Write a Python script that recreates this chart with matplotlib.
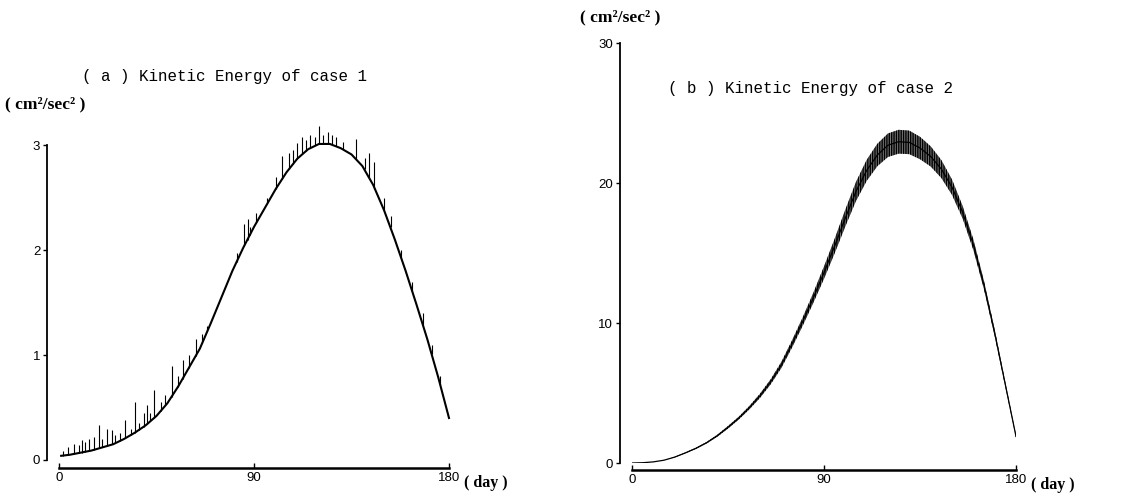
import matplotlib
matplotlib.use("Agg")
import matplotlib.pyplot as plt
import numpy as np

# ---------------- data ----------------
# (a) Kinetic energy of case 1: smooth base curve
days_a = [1, 5, 10, 15, 20, 25, 30, 35, 40, 45, 50, 55, 60, 65, 70, 75, 80, 85, 90,
          95, 100, 105, 110, 115, 120, 125, 130, 135, 140, 145, 150, 155, 160, 165,
          170, 175, 180]
ke_a = [0.04, 0.05, 0.07, 0.09, 0.12, 0.15, 0.20, 0.26, 0.33, 0.42, 0.54, 0.70, 0.88,
        1.06, 1.30, 1.55, 1.80, 2.02, 2.22, 2.40, 2.58, 2.74, 2.87, 2.96, 3.01, 3.01,
        2.97, 2.91, 2.80, 2.62, 2.38, 2.10, 1.80, 1.48, 1.15, 0.79, 0.40]

# (a) short upward spikes on the curve
spike_days = [2, 4, 7, 9, 10.5, 12, 14, 16, 18.5, 20, 22, 24.5, 26, 28, 30.5, 33, 35,
              37, 39, 40.5, 42, 44, 47, 49, 52, 55, 57, 60, 63, 66, 68.5, 82, 85.5, 87,
              88, 91, 96, 100, 103, 106, 108, 110, 112, 114, 116, 118, 120, 122, 124,
              126, 128, 131, 137, 141, 143, 145.5, 150, 153, 158, 163, 168, 172, 176]
spike_low = [0.04, 0.05, 0.06, 0.065, 0.07, 0.08, 0.085, 0.095, 0.11, 0.12, 0.13, 0.15,
             0.16, 0.18, 0.21, 0.24, 0.26, 0.29, 0.31, 0.34, 0.37, 0.40, 0.47, 0.52,
             0.60, 0.70, 0.77, 0.88, 0.99, 1.11, 1.23, 1.89, 2.04, 2.10, 2.14, 2.26,
             2.44, 2.58, 2.68, 2.77, 2.82, 2.87, 2.91, 2.94, 2.98, 3.00, 3.01, 3.01,
             3.01, 3.01, 2.99, 2.96, 2.87, 2.77, 2.70, 2.58, 2.38, 2.22, 1.92, 1.61,
             1.28, 1.01, 0.71]
spike_high = [0.09, 0.12, 0.15, 0.14, 0.19, 0.17, 0.20, 0.22, 0.33, 0.20, 0.30, 0.29,
              0.24, 0.26, 0.38, 0.30, 0.55, 0.35, 0.45, 0.52, 0.45, 0.67, 0.55, 0.62,
              0.90, 0.80, 0.95, 1.00, 1.15, 1.20, 1.28, 1.97, 2.25, 2.30, 2.22, 2.35,
              2.50, 2.70, 2.90, 2.92, 2.95, 3.02, 3.08, 3.05, 3.10, 3.08, 3.18, 3.10,
              3.12, 3.10, 3.08, 3.03, 3.06, 2.88, 2.92, 2.84, 2.50, 2.32, 2.00, 1.70,
              1.40, 1.10, 0.80]

# (b) Kinetic energy of case 2: centre of the oscillating band and its half width
days_b = [0, 5, 10, 15, 20, 25, 30, 35, 40, 45, 50, 55, 60, 65, 70, 75, 80, 85, 90, 95,
          100, 105, 110, 115, 120, 125, 130, 135, 140, 145, 150, 155, 160, 165, 170,
          175, 180]
ke_b = [0.0, 0.02, 0.08, 0.2, 0.42, 0.72, 1.05, 1.45, 1.95, 2.55, 3.2, 3.95, 4.8, 5.8,
        7.0, 8.5, 10.1, 11.8, 13.6, 15.5, 17.5, 19.4, 20.9, 22.0, 22.7, 22.95, 22.9,
        22.5, 21.9, 21.0, 19.7, 17.9, 15.6, 12.7, 9.3, 5.6, 1.9]
band_b = [0.0, 0.0, 0.0, 0.0, 0.02, 0.03, 0.04, 0.05, 0.07, 0.09, 0.1, 0.12, 0.15, 0.18,
          0.22, 0.26, 0.3, 0.36, 0.44, 0.52, 0.6, 0.68, 0.75, 0.8, 0.84, 0.85, 0.84,
          0.8, 0.72, 0.64, 0.55, 0.45, 0.38, 0.3, 0.24, 0.16, 0.08]

xticks = [0, 90, 180]
yticks_a = [0, 1, 2, 3]
yticks_b = [0, 10, 20, 30]

# ---------------- figure ----------------
W, H = 1127, 493
fig = plt.figure(figsize=(W / 100, H / 100), dpi=100)

tick_family = ['Liberation Sans Narrow', 'Liberation Sans', 'DejaVu Sans']
serif_family = ['Liberation Serif', 'DejaVu Serif']
mono_family = ['Liberation Mono', 'DejaVu Sans Mono']


def px2pt(p):
    return p * 72 / 100


def setup(ax, xlim, ylim, yticks, left_out, bottom_out):
    ax.set_xlim(*xlim)
    ax.set_ylim(*ylim)
    for s in ['top', 'right']:
        ax.spines[s].set_visible(False)
    ax.spines['left'].set_position(('outward', px2pt(left_out)))
    ax.spines['bottom'].set_position(('outward', px2pt(bottom_out)))
    ax.spines['left'].set_bounds(ylim[0], ylim[1])
    ax.spines['bottom'].set_bounds(xlim[0], xlim[1])
    ax.spines['left'].set_linewidth(1.3)
    ax.spines['bottom'].set_linewidth(1.8)
    ax.set_xticks(xticks)
    ax.set_yticks(yticks)
    ax.set_xticklabels([str(t) for t in xticks])
    ax.set_yticklabels([str(t) for t in yticks])
    ax.tick_params(axis='y', direction='out', length=px2pt(4), width=1.0,
                   labelsize=9.5, pad=2)
    ax.tick_params(axis='x', direction='in', length=px2pt(5), width=1.0,
                   labelsize=9.5, pad=3)
    for lab in ax.get_xticklabels() + ax.get_yticklabels():
        lab.set_family(tick_family)
    ax.patch.set_alpha(0)


# panel (a)
axA = fig.add_axes([59 / W, 1 - 460 / H, 390 / W, 315 / H])
setup(axA, (0, 180), (0, 3), yticks_a, 12, 8)
axA.plot(days_a, ke_a, color='black', lw=1.5, clip_on=False)
axA.vlines(spike_days, spike_low, spike_high, color='black', lw=0.8, clip_on=False)

# panel (b)
axB = fig.add_axes([632 / W, 1 - 463 / H, 384 / W, 420 / H])
setup(axB, (0, 180), (0, 30), yticks_b, 12, 7)
lo_b = np.array(ke_b) - np.array(band_b)
hi_b = np.array(ke_b) + np.array(band_b)
axB.fill_between(days_b, lo_b, hi_b, facecolor='#7a7a7a', edgecolor='black',
                 hatch='|||||||', linewidth=0)
axB.plot(days_b, ke_b, color='black', lw=0.9)

# text
fig.text(82 / W, 1 - 77 / H, '( a ) Kinetic Energy of case 1', family=mono_family,
         fontsize=11.4, ha='left', va='center')
fig.text(668 / W, 1 - 88 / H, '( b ) Kinetic Energy of case 2', family=mono_family,
         fontsize=11.4, ha='left', va='center')
fig.text(5 / W, 1 - 104 / H, '( cm\u00b2/sec\u00b2 )', family=serif_family,
         fontweight='bold', fontsize=12.5, ha='left', va='center')
fig.text(580 / W, 1 - 17 / H, '( cm\u00b2/sec\u00b2 )', family=serif_family,
         fontweight='bold', fontsize=12.5, ha='left', va='center')
fig.text(464 / W, 1 - 483 / H, '( day )', family=serif_family, fontweight='bold',
         fontsize=11.5, ha='left', va='center')
fig.text(1031 / W, 1 - 485 / H, '( day )', family=serif_family, fontweight='bold',
         fontsize=11.5, ha='left', va='center')

fig.savefig('out.png', dpi=100, facecolor='white')
